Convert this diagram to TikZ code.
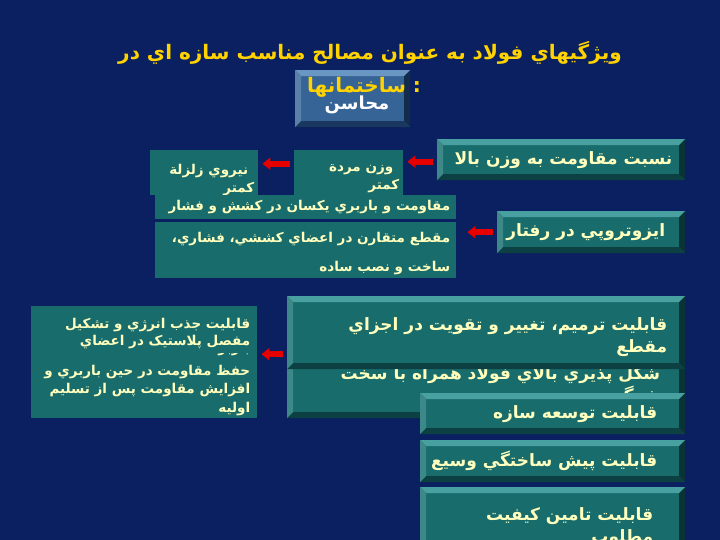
\documentclass[tikz,border=0pt]{standalone}
\usepackage{fontspec}
\newfontfamily\farsi[Script=Arabic]{DejaVu Sans}
\TeXXeTstate=1
\usetikzlibrary{arrows.meta,positioning,calc}

\definecolor{navy}{RGB}{10,32,96}
\definecolor{tealface}{RGB}{25,108,108}
\definecolor{teallight}{RGB}{72,160,160}
\definecolor{tealdark}{RGB}{12,64,66}
\definecolor{steelface}{RGB}{55,100,150}
\definecolor{steellight}{RGB}{105,150,195}
\definecolor{steeldark}{RGB}{25,55,95}
\definecolor{titleyellow}{RGB}{255,210,0}
\definecolor{boxyellow}{RGB}{255,255,190}
\definecolor{arrowred}{RGB}{230,0,0}

\newcommand{\fa}[1]{\beginR #1\endR}

\tikzset{
  plainbox/.style={anchor=north west, fill=tealface, inner sep=0pt},
  bevelbox/.style n args={3}{anchor=north west, inner sep=0pt, fill=#1,
    path picture={
      \coordinate (bnw) at (path picture bounding box.north west);
      \coordinate (bne) at (path picture bounding box.north east);
      \coordinate (bsw) at (path picture bounding box.south west);
      \coordinate (bse) at (path picture bounding box.south east);
      \fill[#2] (bnw) -- (bne) -- ([shift={(-6bp,-6bp)}]bne) -- ([shift={(6bp,-6bp)}]bnw) -- cycle;
      \fill[#2!85!black] (bnw) -- ([shift={(6bp,-6bp)}]bnw) -- ([shift={(6bp,6bp)}]bsw) -- (bsw) -- cycle;
      \fill[#3] (bsw) -- (bse) -- ([shift={(-6bp,6bp)}]bse) -- ([shift={(6bp,6bp)}]bsw) -- cycle;
      \fill[#3!80!black] (bne) -- (bse) -- ([shift={(-6bp,6bp)}]bse) -- ([shift={(-6bp,-6bp)}]bne) -- cycle;
    }},
  tealbevel/.style={bevelbox={tealface}{teallight}{tealdark}},
  titletext/.style={text=titleyellow, inner sep=0pt, font=\farsi\bfseries\fontsize{20bp}{24bp}\selectfont},
  boxtext/.style={text=boxyellow, align=right, inner sep=0pt, font=\farsi\bfseries\fontsize{17bp}{22bp}\selectfont},
  smalltext/.style={boxtext, font=\farsi\bfseries\fontsize{13.5bp}{18.5bp}\selectfont},
  redarrow/.style={draw=arrowred, line width=6bp, -{Triangle[length=8bp,width=12bp]}, shorten <=4bp, shorten >=4bp}
}

\begin{document}
\begin{tikzpicture}[x=1bp,y=-1bp]

%% Background
\fill[navy] (0,0) rectangle (720,540);
\useasboundingbox (0,0) rectangle (720,540);
\clip (0,0) rectangle (720,540);

%% Title
\node[bevelbox={steelface}{steellight}{steeldark}, minimum width=115bp, minimum height=57bp] (merits) at (295,70) {};
\node[titletext] (title) at (370,53) {\fa{ويژگيهاي فولاد به عنوان مصالح مناسب سازه اي در}};
\node[titletext] (titlecont) at (364,87) {\fa{ساختمانها}\ :};
\node[titletext, text=white, font=\farsi\bfseries\fontsize{18bp}{22bp}\selectfont] (meritstext) at (357,105) {\fa{محاسن}};

%% Strength to weight
\node[tealbevel, minimum width=248bp, minimum height=41bp] (ratio) at (437,139) {};
\node[boxtext, anchor=east] (ratiotext) at ([xshift=-13bp]ratio.east) {\fa{نسبت مقاومت به وزن بالا}};

\node[plainbox, minimum width=109bp, minimum height=45bp] (deadload) at (294,150) {};
\node[smalltext, anchor=north east] (deadloadtext) at ([xshift=-4bp,yshift=-14bp]deadload.north east) {\fa{وزن مردة}\kern6bp\\\fa{کمتر}};

\node[plainbox, minimum width=108bp, minimum height=45bp] (quake) at (150,150) {};
\node[smalltext, anchor=north east] (quaketext) at ([xshift=-4bp,yshift=-14bp]quake.north east) {\fa{نيروي زلزلة}\kern6bp\\\fa{کمتر}};

\draw[redarrow] ([yshift=-2bp]ratio.west) -- ([yshift=-2bp]ratio.west -| deadload.east);
\draw[redarrow] ([yshift=-4bp]deadload.west |- ratio.west) -- ([yshift=-4bp]quake.east |- ratio.west);

%% Isotropy
\node[plainbox, minimum width=301bp, minimum height=24bp] (uniform) at (155,195) {};
\node[smalltext, anchor=east] (uniformtext) at ([xshift=-6bp]uniform.east) {\fa{مقاومت و باربري يکسان در کشش و فشار}};

\node[plainbox, minimum width=301bp, minimum height=56bp] (symmetric) at (155,222) {};
\node[smalltext, anchor=north east] (symmetrictext) at ([xshift=-6bp,yshift=-10bp]symmetric.north east) {\fa{مقطع متقارن در اعضاي کششي، فشاري،}\\[11bp]\fa{ساخت و نصب ساده}};

\node[tealbevel, minimum width=188bp, minimum height=42bp] (isotropy) at (497,211) {};
\node[boxtext, anchor=east] (isotropytext) at ([xshift=-20bp]isotropy.east) {\fa{ايزوتروپي در رفتار}};

\draw[redarrow, shorten >=11bp] (isotropy.west) -- (isotropy.west -| symmetric.east);

%% Ductility and repair
\node[plainbox, minimum width=226bp, minimum height=112bp] (energy) at (31,306) {};
\node[smalltext, anchor=north east, font=\farsi\bfseries\fontsize{13.5bp}{17.5bp}\selectfont] (energytext) at ([xshift=-7bp,yshift=-12bp]energy.north east) {\fa{قابليت جذب انرژي و تشکيل}\\\fa{مفصل پلاستيک در اعضاي}};
\begin{scope}
  \clip (31,353.5) rectangle (257,360);
  \node[smalltext, anchor=base east] (energyhidden) at (250,352) {\fa{باربر}};
\end{scope}
\node[smalltext, anchor=north east] (strengthtext) at ([xshift=-7bp,yshift=-59bp]energy.north east) {\fa{حفظ مقاومت در حين باربري و}\\\fa{افزايش مقاومت پس از تسليم}\\\fa{اوليه}};

\node[tealbevel, minimum width=398bp, minimum height=122bp] (ductile) at (287,296) {};
\node[boxtext, anchor=north east] (ductiletext) at ([xshift=-25bp,yshift=-70bp]ductile.north east) {\fa{شکل پذيري بالاي فولاد همراه با سخت}\\\fa{شدگي}};

\node[tealbevel, minimum width=398bp, minimum height=73bp] (repair) at (287,296) {};
\node[boxtext, anchor=north east] (repairtext) at ([xshift=-18bp,yshift=-21bp]repair.north east) {\fa{قابليت ترميم، تغيير و تقويت در اجزاي}\\\fa{مقطع}};

\draw[redarrow] ([yshift=3bp]ductile.west) -- ([yshift=3bp]ductile.west -| energy.east);

%% Other abilities
\node[tealbevel, minimum width=265bp, minimum height=41bp] (extend) at (420,393) {};
\node[boxtext, anchor=east] (extendtext) at ([xshift=-28bp]extend.east) {\fa{قابليت توسعه سازه}};

\node[tealbevel, minimum width=265bp, minimum height=42bp] (prefab) at (420,440) {};
\node[boxtext, anchor=east] (prefabtext) at ([xshift=-28bp]prefab.east) {\fa{قابليت پيش ساختگي وسيع}};

\node[tealbevel, minimum width=265bp, minimum height=80bp] (quality) at (420,487) {};
\node[boxtext, anchor=north east] (qualitytext) at ([xshift=-32bp,yshift=-20bp]quality.north east) {\fa{قابليت تامين کيفيت}\\\fa{مطلوب}};

\end{tikzpicture}
\end{document}
